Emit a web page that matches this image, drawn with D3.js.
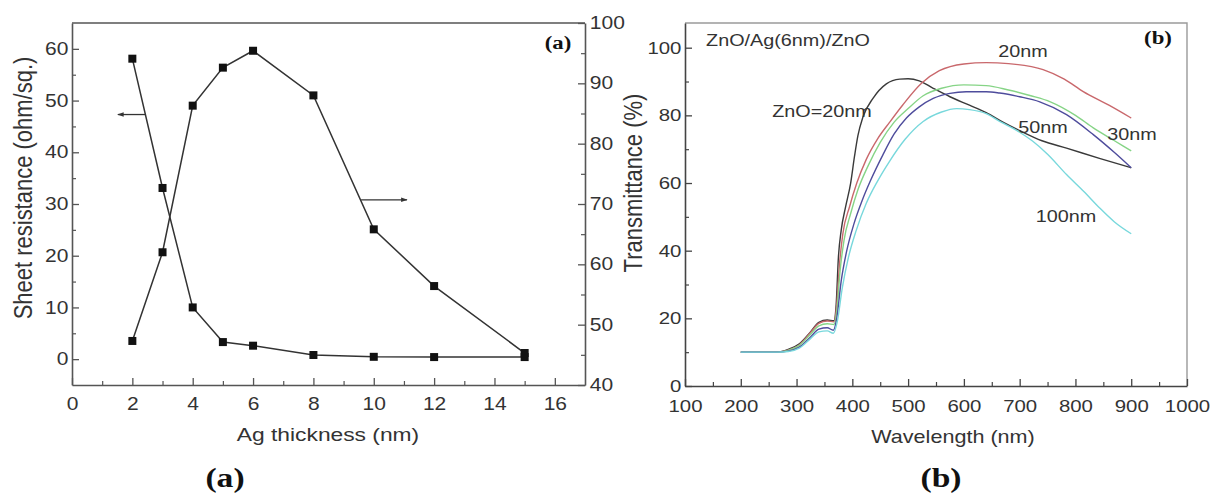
<!DOCTYPE html>
<html>
<head>
<meta charset="utf-8">
<script src="https://cdn.jsdelivr.net/npm/d3@7/dist/d3.min.js"></script>
<style>
  html, body { margin: 0; padding: 0; background: #fff; }
  svg { display: block; }
  text { font-family: "Liberation Sans", Arial, sans-serif; fill: #333; }
  .serif { font-family: "Liberation Serif", "Times New Roman", serif; font-weight: bold; fill: #111; }
</style>
</head>
<body>
<svg id="fig" width="1211" height="494"></svg>
<script>
// ---------- Panel (a): sheet resistance and transmittance vs Ag thickness ----------
const agThickness     = [2, 3, 4, 5, 6, 8, 10, 12, 15];
const sheetResistance = [58.1, 33.1, 10.0, 3.3, 2.6, 0.8, 0.45, 0.4, 0.4];
const transmittanceA  = [47.3, 62.0, 86.3, 92.6, 95.4, 88.0, 65.8, 56.4, 45.3];

const xTicksA      = [0, 2, 4, 6, 8, 10, 12, 14, 16];
const resTicks     = [0, 10, 20, 30, 40, 50, 60];
const transTicksA  = [40, 50, 60, 70, 80, 90, 100];

// ---------- Panel (b): transmittance spectra of ZnO/Ag(6nm)/ZnO ----------
const specZnO20 = [[200,10],[265,10],[285,10.8],[305,12.5],[325,16],[340,18.8],[355,19.5],[367,19.3],[371,24],[375,38],[380,46],[388,53],[397,60],[404,68],[410,74],[419,79.5],[437,85],[461,89.3],[485,90.7],[500,90.8],[520,90.2],[545,88],[575,85.5],[610,83],[640,80.8],[670,78],[700,75.5],[740,72.5],[784,70.3],[843,67.3],[900,64.5]];
const spec20nm  = [[200,10],[265,10],[285,10.6],[305,12.2],[325,15.8],[340,18.5],[355,19.2],[367,19],[372,24],[377,36],[383,45],[395,53],[408,60],[425,67],[445,73],[467,78],[490,83],[524,89.5],[556,93.2],[600,95.2],[640,95.6],[680,95.3],[742,93.5],[780,90.7],[814,87],[860,83],[900,79.2]];
const spec30nm  = [[200,10],[265,10],[285,10.5],[305,12],[325,15.3],[340,17.8],[355,18.4],[367,18.2],[372,22],[378,34],[385,43],[397,51],[410,58],[428,65],[450,72],[475,78],[500,82],[527,85.8],[560,88],[600,89],[640,88.8],[680,87.5],[720,85.8],[755,84],[800,80],[832,76.3],[870,72.5],[900,69.5]];
const spec50nm  = [[200,10],[265,10],[285,10.3],[305,11.5],[325,14.5],[340,16.8],[355,17.2],[366,16.5],[372,20],[380,31],[390,40],[403,48],[418,55],[432,60.5],[455,68.4],[475,74.5],[497,79.2],[520,82.5],[545,85],[575,86.5],[604,87],[640,87],[664,86.6],[700,85.5],[736,84],[784,80.2],[832,74.3],[870,69],[900,64.5]];
const spec100nm = [[200,10],[265,10],[285,10.2],[305,11.2],[325,14],[340,16],[355,16.3],[366,15.6],[373,19],[382,29],[393,38],[407,46],[425,54],[445,60.5],[467,66.5],[495,73],[527,78.2],[560,81],[587,82],[610,81.7],[640,80.5],[664,78.2],[700,75],[723,72.4],[750,68.5],[784,62.5],[815,57.5],[843,52.7],[870,48.5],[900,45]];

const spectra = [
  { data: specZnO20, color: "#3a3a3a" },
  { data: spec20nm,  color: "#c9686c" },
  { data: spec30nm,  color: "#86d486" },
  { data: spec50nm,  color: "#4e4c9c" },
  { data: spec100nm, color: "#78d8dc" }
];

const xTicksB = [100, 200, 300, 400, 500, 600, 700, 800, 900, 1000];
const yTicksB = [0, 20, 40, 60, 80, 100];

// ---------- drawing ----------
const SX = 1.2;   // horizontal stretch of the lettering
const svg = d3.select("#fig");
svg.append("rect").attr("width", 1211).attr("height", 494).attr("fill", "#fff");

function label(x, y, str, size, anchor, cls) {
  return svg.append("text")
    .attr("class", cls || null)
    .attr("transform", `translate(${x},${y}) scale(${SX},1)`)
    .attr("text-anchor", anchor || "start")
    .attr("font-size", size)
    .text(str);
}
function vlabel(x, y, str, size) {
  return svg.append("text")
    .attr("transform", `translate(${x},${y}) scale(${SX},1) rotate(-90)`)
    .attr("text-anchor", "middle")
    .attr("font-size", size)
    .text(str);
}
function styleAxis(g, color, width) {
  g.select(".domain").attr("stroke", color).attr("stroke-width", width);
  g.selectAll(".tick line").attr("stroke", color).attr("stroke-width", 1.3);
}
function minorTicks(axisFn, scale, values, size, transform, color) {
  const g = svg.append("g").attr("transform", transform)
    .call(axisFn(scale).tickValues(values).tickSize(-size).tickFormat(""));
  g.select(".domain").remove();
  g.selectAll(".tick line").attr("stroke", color).attr("stroke-width", 1.2);
}
const plain = d3.format("d");

// ===== Panel (a) =====
const A = { left: 72, right: 585, top: 23, bottom: 385 };
const xA = d3.scaleLinear([0, 17], [A.left, A.right]);
const yRes = d3.scaleLinear([-5, 65], [A.bottom, A.top]);
const yTrA = d3.scaleLinear([40, 100], [A.bottom, A.top]);
const frameA = "#555";

// top border
svg.append("line").attr("x1", A.left).attr("x2", A.right).attr("y1", A.top).attr("y2", A.top)
  .attr("stroke", frameA).attr("stroke-width", 1.6);

// bottom axis
const gxA = svg.append("g").attr("transform", `translate(0,${A.bottom})`)
  .call(d3.axisBottom(xA).tickValues(xTicksA).tickFormat(plain).tickSize(-7).tickSizeOuter(0).tickPadding(13));
styleAxis(gxA, frameA, 1.6);
gxA.selectAll(".tick text").attr("font-size", 17.5).attr("fill", "#333")
  .attr("font-family", "Liberation Sans, Arial, sans-serif")
  .attr("transform", `scale(${SX},1)`);
minorTicks(d3.axisBottom, xA, [1, 3, 5, 7, 9, 11, 13, 15], 4, `translate(0,${A.bottom})`, frameA);

// left axis
const gyA = svg.append("g").attr("transform", `translate(${A.left},0)`)
  .call(d3.axisLeft(yRes).tickValues(resTicks).tickFormat(plain).tickSize(-7).tickSizeOuter(0).tickPadding(3));
styleAxis(gyA, frameA, 1.6);
gyA.selectAll(".tick text").attr("font-size", 17.5).attr("fill", "#333")
  .attr("font-family", "Liberation Sans, Arial, sans-serif")
  .attr("x", -3).attr("transform", `scale(${SX},1)`);
minorTicks(d3.axisLeft, yRes, [5, 15, 25, 35, 45, 55], 4, `translate(${A.left},0)`, frameA);

// right axis
const gyA2 = svg.append("g").attr("transform", `translate(${A.right},0)`)
  .call(d3.axisRight(yTrA).tickValues(transTicksA).tickFormat(plain).tickSize(-7).tickSizeOuter(0).tickPadding(4));
styleAxis(gyA2, frameA, 1.6);
gyA2.selectAll(".tick text").attr("font-size", 17.5).attr("fill", "#333")
  .attr("font-family", "Liberation Sans, Arial, sans-serif")
  .attr("x", 4).attr("transform", `scale(${SX},1)`);
minorTicks(d3.axisRight, yTrA, [45, 55, 65, 75, 85, 95], 4, `translate(${A.right},0)`, frameA);

// data lines
const resPts = agThickness.map((t, i) => [t, sheetResistance[i]]);
const trPts  = agThickness.map((t, i) => [t, transmittanceA[i]]);
svg.append("path").datum(resPts)
  .attr("d", d3.line().x(d => xA(d[0])).y(d => yRes(d[1])))
  .attr("fill", "none").attr("stroke", "#333").attr("stroke-width", 1.5);
svg.append("path").datum(trPts)
  .attr("d", d3.line().x(d => xA(d[0])).y(d => yTrA(d[1])))
  .attr("fill", "none").attr("stroke", "#333").attr("stroke-width", 1.5);

const sq = 8;
svg.append("g").selectAll("rect").data(resPts).join("rect")
  .attr("x", d => xA(d[0]) - sq / 2).attr("y", d => yRes(d[1]) - sq / 2)
  .attr("width", sq).attr("height", sq).attr("fill", "#111");
svg.append("g").selectAll("rect").data(trPts).join("rect")
  .attr("x", d => xA(d[0]) - sq / 2).attr("y", d => yTrA(d[1]) - sq / 2)
  .attr("width", sq).attr("height", sq).attr("fill", "#111");

// arrows pointing to the relevant axis
const defs = svg.append("defs");
defs.append("marker").attr("id", "head").attr("viewBox", "0 0 10 10")
  .attr("refX", 9).attr("refY", 5).attr("markerWidth", 5).attr("markerHeight", 5)
  .attr("orient", "auto-start-reverse")
  .append("path").attr("d", "M0,1.5 L10,5 L0,8.5 Z").attr("fill", "#333");
svg.append("line")
  .attr("x1", xA(2.42)).attr("x2", xA(1.52)).attr("y1", yRes(47.3)).attr("y2", yRes(47.3))
  .attr("stroke", "#333").attr("stroke-width", 1.3).attr("marker-end", "url(#head)");
svg.append("line")
  .attr("x1", xA(9.58)).attr("x2", xA(11.1)).attr("y1", yTrA(70.7)).attr("y2", yTrA(70.7))
  .attr("stroke", "#333").attr("stroke-width", 1.3).attr("marker-end", "url(#head)");

// labels
label(558, 49, "(a)", 19, "middle", "serif");
label(328, 441, "Ag thickness (nm)", 19, "middle");
vlabel(32, 188, "Sheet resistance (ohm/sq.)", 22);
label(225, 487, "(a)", 28, "middle", "serif");

// ===== Panel (b) =====
const B = { left: 685, right: 1187, top: 23, bottom: 386 };
const xB = d3.scaleLinear([100, 1000], [B.left, B.right]);
const yB = d3.scaleLinear([0, 107.3], [B.bottom, B.top]);
const frameB = "#444";

// light top and right borders
svg.append("path")
  .attr("d", `M${B.left},${B.top} H${B.right} V${B.bottom}`)
  .attr("fill", "none").attr("stroke", "#9a9a9a").attr("stroke-width", 1.4);

const gxB = svg.append("g").attr("transform", `translate(0,${B.bottom})`)
  .call(d3.axisBottom(xB).tickValues(xTicksB).tickFormat(plain).tickSize(-7).tickSizeOuter(0).tickPadding(14));
styleAxis(gxB, frameB, 1.6);
gxB.selectAll(".tick text").attr("font-size", 17).attr("fill", "#333")
  .attr("font-family", "Liberation Sans, Arial, sans-serif")
  .attr("transform", `scale(${SX},1)`);
minorTicks(d3.axisBottom, xB, [150, 250, 350, 450, 550, 650, 750, 850, 950], 4, `translate(0,${B.bottom})`, frameB);

const gyB = svg.append("g").attr("transform", `translate(${B.left},0)`)
  .call(d3.axisLeft(yB).tickValues(yTicksB).tickFormat(plain).tickSize(-7).tickSizeOuter(0).tickPadding(3));
styleAxis(gyB, frameB, 1.6);
gyB.selectAll(".tick text").attr("font-size", 17).attr("fill", "#333")
  .attr("font-family", "Liberation Sans, Arial, sans-serif")
  .attr("x", -3).attr("transform", `scale(${SX},1)`);
minorTicks(d3.axisLeft, yB, [10, 30, 50, 70, 90], 4, `translate(${B.left},0)`, frameB);

const spectrumLine = d3.line().x(d => xB(d[0])).y(d => yB(d[1])).curve(d3.curveMonotoneX);
svg.append("g").selectAll("path").data(spectra).join("path")
  .attr("d", d => spectrumLine(d.data))
  .attr("fill", "none").attr("stroke", d => d.color).attr("stroke-width", 1.4);

label(788, 46, "ZnO/Ag(6nm)/ZnO", 16.5, "middle");
label(822, 117, "ZnO=20nm", 16.5, "middle");
label(1023, 57, "20nm", 16.5, "middle");
label(1132, 140, "30nm", 16.5, "middle");
label(1043, 133, "50nm", 16.5, "middle");
label(1066, 222, "100nm", 16.5, "middle");
label(1158, 44, "(b)", 19, "middle", "serif");
label(953, 443, "Wavelength (nm)", 18, "middle");
vlabel(642, 183, "Transmittance (%)", 22);
label(941, 487, "(b)", 28, "middle", "serif");
</script>
</body>
</html>
